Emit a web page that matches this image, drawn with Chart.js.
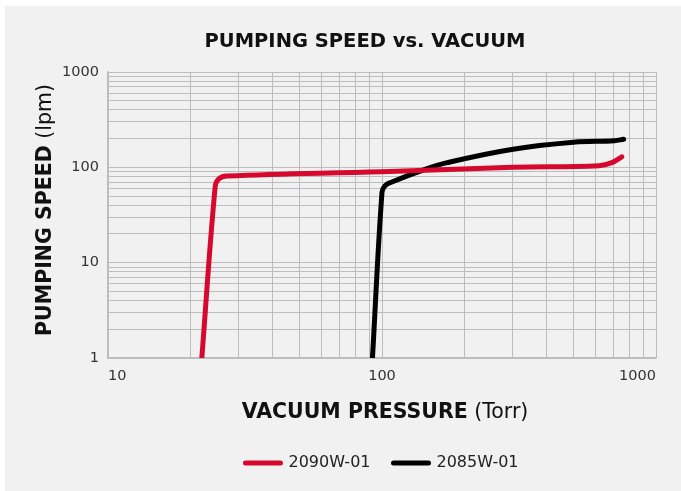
<!DOCTYPE html>
<html>
<head>
<meta charset="utf-8">
<title>Pumping speed vs. vacuum</title>
<script src="https://cdn.jsdelivr.net/npm/chart.js@4.4.0/dist/chart.umd.min.js"></script>
<style>
  html, body { margin: 0; padding: 0; background: #fff; }
  #panel { position: absolute; left: 5px; top: 6px; width: 676px; height: 485px; background: #f1f1f1; }
  #wrap { position: absolute; left: 0; top: 0; width: 681px; height: 491px; }
</style>
</head>
<body>
<div id="panel"></div>
<div id="wrap"><canvas id="chart" width="681" height="491"></canvas></div>
<script>
// series (x = Torr, y = lpm)
const seriesNames = ["2090W-01", "2085W-01"];
const pressure2090 = [22, 24.6, 25.3, 27.1, 100, 300, 620, 690, 750];
const speed2090 = [1, 62, 75, 81, 90, 100, 104, 112, 129];
const pressure2085 = [92.3, 100, 102.5, 107, 142, 173, 297, 500, 705, 762];
const speed2085 = [1, 55, 64, 69, 94, 112, 154, 183, 190, 197];

// grid lines and labelled ticks
const xGridValues = [10, 20, 30, 40, 50, 60, 70, 80, 90, 100, 200, 300, 400, 500, 600, 700, 800, 900, 1000];
const yGridValues = [1, 2, 3, 4, 5, 6, 7, 8, 9, 10, 20, 30, 40, 50, 60, 70, 80, 90, 100, 200, 300, 400, 500, 600, 700, 800, 900, 1000];
const xTickLabels = [10, 100, 1000];
const yTickLabels = [1, 10, 100, 1000];

const FONT = "'DejaVu Sans', sans-serif";
const RED = "#d7082e";
const GRID = "#bdbdbd";

function toPoints(xs, ys) {
    return xs.map((x, i) => ({ x: x, y: ys[i] }));
}

function drawMixed(ctx, boldText, normalText, cx, cy, rot) {
    const boldFont = "bold 20.5px " + FONT;
    const normalFont = "normal 20.5px " + FONT;
    ctx.save();
    ctx.translate(cx, cy);
    ctx.rotate(rot);
    ctx.font = boldFont;
    const w1 = ctx.measureText(boldText).width;
    ctx.font = normalFont;
    const w2 = ctx.measureText(normalText).width;
    const x0 = -(w1 + w2) / 2;
    ctx.textBaseline = "middle";
    ctx.textAlign = "left";
    ctx.fillStyle = "#111";
    ctx.font = boldFont;
    ctx.fillText(boldText, x0, 0);
    ctx.font = normalFont;
    ctx.fillText(normalText, x0 + w1, 0);
    ctx.restore();
}

// axis titles mix a bold and a regular part
const axisTitles = {
    id: "axisTitles",
    afterLayout(chart) {
        const area = chart.chartArea;
        chart.legend.left = area.left;
        chart.legend.right = area.right;
        chart.titleBlock.left += 37;
        chart.titleBlock.right += 37;
    },
    afterDraw(chart) {
        const area = chart.chartArea;
        const ctx = chart.ctx;
        drawMixed(ctx, "VACUUM PRESSURE", " (Torr)", (area.left + area.right) / 2 + 3, area.bottom + 55, 0);
        drawMixed(ctx, "PUMPING SPEED", " (lpm)", area.left - 62, (area.top + area.bottom) / 2 - 5, -Math.PI / 2);
    }
};

let chart = new Chart(document.getElementById("chart"), {
    type: "line",
    data: {
        datasets: [
            {
                label: seriesNames[0],
                data: toPoints(pressure2090, speed2090),
                borderColor: RED,
                backgroundColor: RED,
                borderWidth: 5,
                borderCapStyle: "round",
                borderJoinStyle: "round",
                tension: 0.4,
                pointRadius: 0
            },
            {
                label: seriesNames[1],
                data: toPoints(pressure2085, speed2085),
                borderColor: "#000",
                backgroundColor: "#000",
                borderWidth: 5,
                borderCapStyle: "round",
                borderJoinStyle: "round",
                tension: 0.4,
                pointRadius: 0
            }
        ]
    },
    options: {
        responsive: false,
        animation: false,
        devicePixelRatio: 1,
        layout: { padding: { left: 0, right: 25, top: 0, bottom: 10 } },
        scales: {
            x: {
                type: "logarithmic",
                min: 10,
                max: 1000,
                afterBuildTicks: (axis) => { axis.ticks = xGridValues.map(v => ({ value: v })); },
                afterFit: (axis) => { axis.height = 74; axis.paddingLeft = 0; axis.paddingRight = 0; },
                ticks: {
                    autoSkip: false,
                    maxRotation: 0,
                    align: "inner",
                    padding: 10,
                    color: "#333",
                    font: { family: FONT, size: 14.5 },
                    callback: (v) => xTickLabels.includes(v) ? String(v) : ""
                },
                grid: { color: GRID, lineWidth: 1, drawTicks: false },
                border: { color: GRID, width: 1.5 }
            },
            y: {
                type: "logarithmic",
                min: 1,
                max: 1000,
                afterBuildTicks: (axis) => { axis.ticks = yGridValues.map(v => ({ value: v })); },
                afterFit: (axis) => { axis.width = 108; axis.paddingTop = 0; axis.paddingBottom = 0; },
                ticks: {
                    autoSkip: false,
                    padding: 9,
                    color: "#333",
                    font: { family: FONT, size: 14.5 },
                    callback: (v) => yTickLabels.includes(v) ? String(v) : ""
                },
                grid: { color: GRID, lineWidth: 1, drawTicks: false },
                border: { color: GRID, width: 1.5 }
            }
        },
        plugins: {
            title: {
                display: true,
                text: "PUMPING SPEED vs. VACUUM",
                color: "#111",
                font: { family: FONT, size: 19.5, weight: "bold", lineHeight: 1.2 },
                padding: { top: 30.3, bottom: 18.3 }
            },
            legend: {
                position: "bottom",
                labels: {
                    boxWidth: 35,
                    boxHeight: 0,
                    padding: 23,
                    color: "#222",
                    font: { family: FONT, size: 16 }
                }
            },
            tooltip: { enabled: false }
        }
    },
    plugins: [axisTitles]
});
</script>
</body>
</html>
